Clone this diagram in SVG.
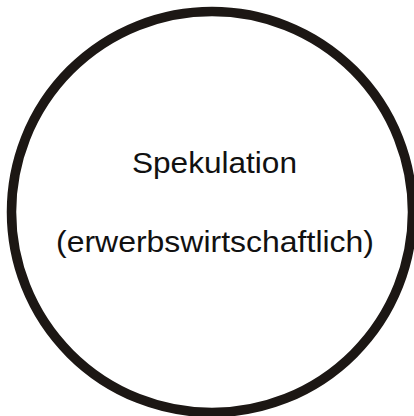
<svg xmlns="http://www.w3.org/2000/svg" width="414" height="416" viewBox="0 0 414 416">
  <style>
    .ring { fill: #ffffff; stroke: #1c1714; stroke-width: 9.5; }
    .label { font-family: "Liberation Sans", Arial, sans-serif; font-size: 30px; fill: #111111; }
  </style>
  <rect width="414" height="416" fill="#ffffff"/>
  <g id="spekulation">
    <circle class="ring" cx="212" cy="212" r="200.5"/>
    <text class="label" x="132" y="173" textLength="165" lengthAdjust="spacingAndGlyphs">Spekulation</text>
    <text class="label" x="56" y="252" textLength="318" lengthAdjust="spacingAndGlyphs">(erwerbswirtschaftlich)</text>
  </g>
</svg>
